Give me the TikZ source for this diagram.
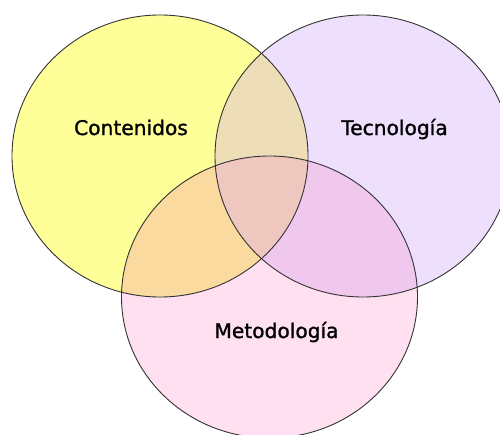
\documentclass[tikz,border=0pt]{standalone}
\usepackage{fontspec}
\setmainfont{DejaVu Sans}
\newfontfamily\lblfont[FakeBold=1.2]{DejaVu Sans}
\definecolor{cyel}{HTML}{FFFF99}
\definecolor{clav}{HTML}{EEE0FD}
\definecolor{cpink}{HTML}{FFE0F0}
\definecolor{cyl}{HTML}{EDDEB7}
\definecolor{cyp}{HTML}{FADA9F}
\definecolor{clp}{HTML}{F0C8EE}
\definecolor{call}{HTML}{EEC8BE}
\tikzset{
  ring/.style={draw=black!80, line width=0.9pt},
  label/.style={font=\lblfont\fontsize{20.2}{22}\selectfont, text=black, anchor=base, inner sep=0pt}
}
\begin{document}
\begin{tikzpicture}[x=1pt,y=-1pt]
\useasboundingbox (0,0) rectangle (500,434);
\clip (0,0) rectangle (500,434);
% base fills
\fill[cyel] (160,156) ellipse [x radius=148, y radius=141];
\fill[clav] (363,156) ellipse [x radius=148, y radius=141];
\fill[cpink] (269.5,297) ellipse [x radius=148, y radius=141];
% pairwise overlaps
\begin{scope}
  \clip (160,156) ellipse [x radius=148, y radius=141];
  \fill[cyl] (363,156) ellipse [x radius=148, y radius=141];
  \fill[cyp] (269.5,297) ellipse [x radius=148, y radius=141];
\end{scope}
\begin{scope}
  \clip (363,156) ellipse [x radius=148, y radius=141];
  \fill[clp] (269.5,297) ellipse [x radius=148, y radius=141];
\end{scope}
% triple overlap
\begin{scope}
  \clip (160,156) ellipse [x radius=148, y radius=141];
  \clip (363,156) ellipse [x radius=148, y radius=141];
  \fill[call] (269.5,297) ellipse [x radius=148, y radius=141];
\end{scope}
% outlines
\draw[ring] (160,156) ellipse [x radius=148, y radius=141];
\draw[ring] (363,156) ellipse [x radius=148, y radius=141];
\draw[ring] (269.5,297) ellipse [x radius=148, y radius=141];
% labels
\node[label] (cont) at (131,135) {Contenidos};
\node[label] (tec) at (394.5,135) {Tecnología};
\node[label] (met) at (276.5,338) {Metodología};
\end{tikzpicture}
\end{document}
